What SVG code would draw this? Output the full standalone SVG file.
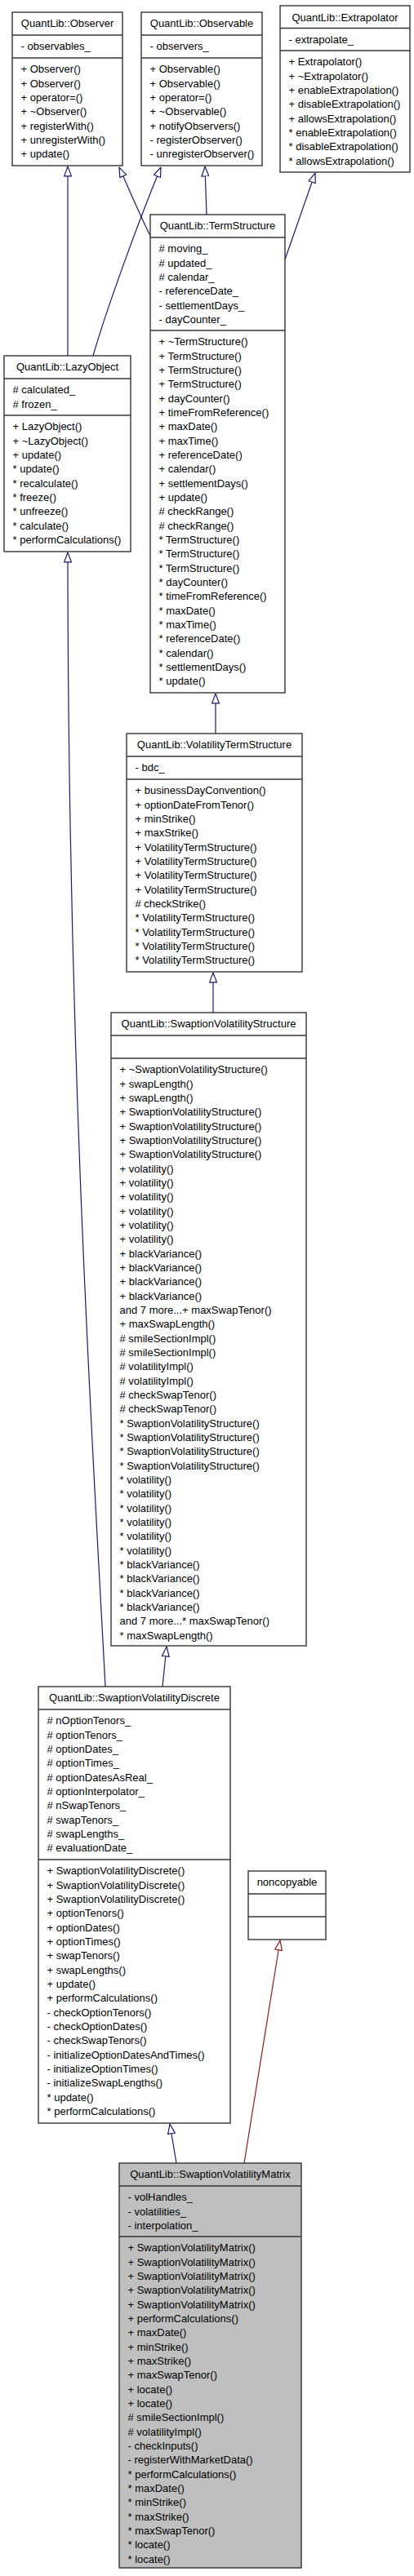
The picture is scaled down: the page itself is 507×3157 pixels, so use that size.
<svg xmlns="http://www.w3.org/2000/svg" width="507" height="3157" viewBox="0 0 507 3157">
<style>
.box{fill:#fff;stroke:#333;stroke-width:1.4}
.sel{fill:#bfbfbf;stroke:#333;stroke-width:1.4}
.sep{stroke:#333;stroke-width:1.4}
text{font-family:"Liberation Sans",Arial,Helvetica,sans-serif;font-size:13px;fill:#000}
.t{text-anchor:middle}
.e{fill:none;stroke:#191970;stroke-width:1.2}
.r{fill:none;stroke:#8b1a1a;stroke-width:1.2}
</style>
<defs>
<marker id="ab" viewBox="0 0 13 10" refX="12.5" refY="5" markerWidth="13" markerHeight="10" markerUnits="userSpaceOnUse" orient="auto">
<path d="M0.6,0.6 L12.4,5 L0.6,9.4 Z" fill="#fff" stroke="#191970" stroke-width="1.2"/>
</marker>
<marker id="ar" viewBox="0 0 13 10" refX="12.5" refY="5" markerWidth="13" markerHeight="10" markerUnits="userSpaceOnUse" orient="auto">
<path d="M0.6,0.6 L12.4,5 L0.6,9.4 Z" fill="#fff" stroke="#8b1a1a" stroke-width="1.2"/>
</marker>
</defs>
<rect width="507" height="3157" fill="#fff"/>

<g id="edges">
<path class="e" d="M83,436 L83,204" marker-end="url(#ab)"/>
<path class="e" d="M184,289 C172,265 158,232 146,205" marker-end="url(#ab)"/>
<path class="e" d="M114,436 C130,380 170,270 197,205" marker-end="url(#ab)"/>
<path class="e" d="M253,263 L251,204" marker-end="url(#ab)"/>
<path class="e" d="M349,318 L386,212" marker-end="url(#ab)"/>
<path class="e" d="M264,899 L264,850" marker-end="url(#ab)"/>
<path class="e" d="M261,1241 L261,1192" marker-end="url(#ab)"/>
<path class="e" d="M129,2067 C115,1800 83,1300 83,677" marker-end="url(#ab)"/>
<path class="e" d="M199,2067 L204,2018" marker-end="url(#ab)"/>
<path class="e" d="M216,2651 L208,2603" marker-end="url(#ab)"/>
<path class="r" d="M299,2651 L343,2378" marker-end="url(#ar)"/>
</g>

<g id="observer">
<rect class="box" x="15" y="15" width="135" height="188"/>
<line class="sep" x1="15" y1="43" x2="150" y2="43"/>
<line class="sep" x1="15" y1="71" x2="150" y2="71"/>
<text class="t" x="82.5" y="33.3">QuantLib::Observer</text>
<text x="25.5" y="61.3">- observables_</text>
<text x="25.5" y="89.3"><tspan x="25.5">+ Observer()</tspan><tspan x="25.5" dy="17.33">+ Observer()</tspan><tspan x="25.5" dy="17.33">+ operator=()</tspan><tspan x="25.5" dy="17.33">+ ~Observer()</tspan><tspan x="25.5" dy="17.33">+ registerWith()</tspan><tspan x="25.5" dy="17.33">+ unregisterWith()</tspan><tspan x="25.5" dy="17.33">+ update()</tspan></text>
</g>

<g id="observable">
<rect class="box" x="173" y="15" width="148" height="188"/>
<line class="sep" x1="173" y1="43" x2="321" y2="43"/>
<line class="sep" x1="173" y1="71" x2="321" y2="71"/>
<text class="t" x="247" y="33.3">QuantLib::Observable</text>
<text x="183.5" y="61.3">- observers_</text>
<text x="183.5" y="89.3"><tspan x="183.5">+ Observable()</tspan><tspan x="183.5" dy="17.33">+ Observable()</tspan><tspan x="183.5" dy="17.33">+ operator=()</tspan><tspan x="183.5" dy="17.33">+ ~Observable()</tspan><tspan x="183.5" dy="17.33">+ notifyObservers()</tspan><tspan x="183.5" dy="17.33">- registerObserver()</tspan><tspan x="183.5" dy="17.33">- unregisterObserver()</tspan></text>
</g>

<g id="extrapolator">
<rect class="box" x="343" y="7" width="159" height="204"/>
<line class="sep" x1="343" y1="34.5" x2="502" y2="34.5"/>
<line class="sep" x1="343" y1="62" x2="502" y2="62"/>
<text class="t" x="422.5" y="25.5">QuantLib::Extrapolator</text>
<text x="353.5" y="53">- extrapolate_</text>
<text x="353.5" y="80.3"><tspan x="353.5">+ Extrapolator()</tspan><tspan x="353.5" dy="17.33">+ ~Extrapolator()</tspan><tspan x="353.5" dy="17.33">+ enableExtrapolation()</tspan><tspan x="353.5" dy="17.33">+ disableExtrapolation()</tspan><tspan x="353.5" dy="17.33">+ allowsExtrapolation()</tspan><tspan x="353.5" dy="17.33">* enableExtrapolation()</tspan><tspan x="353.5" dy="17.33">* disableExtrapolation()</tspan><tspan x="353.5" dy="17.33">* allowsExtrapolation()</tspan></text>
</g>

<g id="termstructure">
<rect class="box" x="184" y="263" width="165" height="586"/>
<line class="sep" x1="184" y1="291" x2="349" y2="291"/>
<line class="sep" x1="184" y1="405" x2="349" y2="405"/>
<text class="t" x="266.5" y="281.3">QuantLib::TermStructure</text>
<text x="194.5" y="309.3"><tspan x="194.5"># moving_</tspan><tspan x="194.5" dy="17.33"># updated_</tspan><tspan x="194.5" dy="17.33"># calendar_</tspan><tspan x="194.5" dy="17.33">- referenceDate_</tspan><tspan x="194.5" dy="17.33">- settlementDays_</tspan><tspan x="194.5" dy="17.33">- dayCounter_</tspan></text>
<text x="194.5" y="423.3"><tspan x="194.5">+ ~TermStructure()</tspan><tspan x="194.5" dy="17.33">+ TermStructure()</tspan><tspan x="194.5" dy="17.33">+ TermStructure()</tspan><tspan x="194.5" dy="17.33">+ TermStructure()</tspan><tspan x="194.5" dy="17.33">+ dayCounter()</tspan><tspan x="194.5" dy="17.33">+ timeFromReference()</tspan><tspan x="194.5" dy="17.33">+ maxDate()</tspan><tspan x="194.5" dy="17.33">+ maxTime()</tspan><tspan x="194.5" dy="17.33">+ referenceDate()</tspan><tspan x="194.5" dy="17.33">+ calendar()</tspan><tspan x="194.5" dy="17.33">+ settlementDays()</tspan><tspan x="194.5" dy="17.33">+ update()</tspan><tspan x="194.5" dy="17.33"># checkRange()</tspan><tspan x="194.5" dy="17.33"># checkRange()</tspan><tspan x="194.5" dy="17.33">* TermStructure()</tspan><tspan x="194.5" dy="17.33">* TermStructure()</tspan><tspan x="194.5" dy="17.33">* TermStructure()</tspan><tspan x="194.5" dy="17.33">* dayCounter()</tspan><tspan x="194.5" dy="17.33">* timeFromReference()</tspan><tspan x="194.5" dy="17.33">* maxDate()</tspan><tspan x="194.5" dy="17.33">* maxTime()</tspan><tspan x="194.5" dy="17.33">* referenceDate()</tspan><tspan x="194.5" dy="17.33">* calendar()</tspan><tspan x="194.5" dy="17.33">* settlementDays()</tspan><tspan x="194.5" dy="17.33">* update()</tspan></text>
</g>

<g id="lazyobject">
<rect class="box" x="5" y="436" width="155" height="240"/>
<line class="sep" x1="5" y1="464" x2="160" y2="464"/>
<line class="sep" x1="5" y1="509" x2="160" y2="509"/>
<text class="t" x="82.5" y="454.3">QuantLib::LazyObject</text>
<text x="15.5" y="482.3"><tspan x="15.5"># calculated_</tspan><tspan x="15.5" dy="17.33"># frozen_</tspan></text>
<text x="15.5" y="527.3"><tspan x="15.5">+ LazyObject()</tspan><tspan x="15.5" dy="17.33">+ ~LazyObject()</tspan><tspan x="15.5" dy="17.33">+ update()</tspan><tspan x="15.5" dy="17.33">* update()</tspan><tspan x="15.5" dy="17.33">* recalculate()</tspan><tspan x="15.5" dy="17.33">* freeze()</tspan><tspan x="15.5" dy="17.33">* unfreeze()</tspan><tspan x="15.5" dy="17.33">* calculate()</tspan><tspan x="15.5" dy="17.33">* performCalculations()</tspan></text>
</g>

<g id="volatilitytermstructure">
<rect class="box" x="155" y="899" width="215" height="292"/>
<line class="sep" x1="155" y1="927" x2="370" y2="927"/>
<line class="sep" x1="155" y1="955" x2="370" y2="955"/>
<text class="t" x="262.5" y="917.3">QuantLib::VolatilityTermStructure</text>
<text x="165.5" y="945.3">- bdc_</text>
<text x="165.5" y="973.3"><tspan x="165.5">+ businessDayConvention()</tspan><tspan x="165.5" dy="17.33">+ optionDateFromTenor()</tspan><tspan x="165.5" dy="17.33">+ minStrike()</tspan><tspan x="165.5" dy="17.33">+ maxStrike()</tspan><tspan x="165.5" dy="17.33">+ VolatilityTermStructure()</tspan><tspan x="165.5" dy="17.33">+ VolatilityTermStructure()</tspan><tspan x="165.5" dy="17.33">+ VolatilityTermStructure()</tspan><tspan x="165.5" dy="17.33">+ VolatilityTermStructure()</tspan><tspan x="165.5" dy="17.33"># checkStrike()</tspan><tspan x="165.5" dy="17.33">* VolatilityTermStructure()</tspan><tspan x="165.5" dy="17.33">* VolatilityTermStructure()</tspan><tspan x="165.5" dy="17.33">* VolatilityTermStructure()</tspan><tspan x="165.5" dy="17.33">* VolatilityTermStructure()</tspan></text>
</g>

<g id="swaptionvolatilitystructure">
<rect class="box" x="136" y="1241" width="239" height="776"/>
<line class="sep" x1="136" y1="1269" x2="375" y2="1269"/>
<line class="sep" x1="136" y1="1297" x2="375" y2="1297"/>
<text class="t" x="255.5" y="1259.3">QuantLib::SwaptionVolatilityStructure</text>
<text x="146.5" y="1315.3"><tspan x="146.5">+ ~SwaptionVolatilityStructure()</tspan><tspan x="146.5" dy="17.33">+ swapLength()</tspan><tspan x="146.5" dy="17.33">+ swapLength()</tspan><tspan x="146.5" dy="17.33">+ SwaptionVolatilityStructure()</tspan><tspan x="146.5" dy="17.33">+ SwaptionVolatilityStructure()</tspan><tspan x="146.5" dy="17.33">+ SwaptionVolatilityStructure()</tspan><tspan x="146.5" dy="17.33">+ SwaptionVolatilityStructure()</tspan><tspan x="146.5" dy="17.33">+ volatility()</tspan><tspan x="146.5" dy="17.33">+ volatility()</tspan><tspan x="146.5" dy="17.33">+ volatility()</tspan><tspan x="146.5" dy="17.33">+ volatility()</tspan><tspan x="146.5" dy="17.33">+ volatility()</tspan><tspan x="146.5" dy="17.33">+ volatility()</tspan><tspan x="146.5" dy="17.33">+ blackVariance()</tspan><tspan x="146.5" dy="17.33">+ blackVariance()</tspan><tspan x="146.5" dy="17.33">+ blackVariance()</tspan><tspan x="146.5" dy="17.33">+ blackVariance()</tspan><tspan x="146.5" dy="17.33">and 7 more...+ maxSwapTenor()</tspan><tspan x="146.5" dy="17.33">+ maxSwapLength()</tspan><tspan x="146.5" dy="17.33"># smileSectionImpl()</tspan><tspan x="146.5" dy="17.33"># smileSectionImpl()</tspan><tspan x="146.5" dy="17.33"># volatilityImpl()</tspan><tspan x="146.5" dy="17.33"># volatilityImpl()</tspan><tspan x="146.5" dy="17.33"># checkSwapTenor()</tspan><tspan x="146.5" dy="17.33"># checkSwapTenor()</tspan><tspan x="146.5" dy="17.33">* SwaptionVolatilityStructure()</tspan><tspan x="146.5" dy="17.33">* SwaptionVolatilityStructure()</tspan><tspan x="146.5" dy="17.33">* SwaptionVolatilityStructure()</tspan><tspan x="146.5" dy="17.33">* SwaptionVolatilityStructure()</tspan><tspan x="146.5" dy="17.33">* volatility()</tspan><tspan x="146.5" dy="17.33">* volatility()</tspan><tspan x="146.5" dy="17.33">* volatility()</tspan><tspan x="146.5" dy="17.33">* volatility()</tspan><tspan x="146.5" dy="17.33">* volatility()</tspan><tspan x="146.5" dy="17.33">* volatility()</tspan><tspan x="146.5" dy="17.33">* blackVariance()</tspan><tspan x="146.5" dy="17.33">* blackVariance()</tspan><tspan x="146.5" dy="17.33">* blackVariance()</tspan><tspan x="146.5" dy="17.33">* blackVariance()</tspan><tspan x="146.5" dy="17.33">and 7 more...* maxSwapTenor()</tspan><tspan x="146.5" dy="17.33">* maxSwapLength()</tspan></text>
</g>

<g id="swaptionvolatilitydiscrete">
<rect class="box" x="47" y="2067" width="235" height="535"/>
<line class="sep" x1="47" y1="2095" x2="282" y2="2095"/>
<line class="sep" x1="47" y1="2279" x2="282" y2="2279"/>
<text class="t" x="164.5" y="2085.3">QuantLib::SwaptionVolatilityDiscrete</text>
<text x="57.5" y="2113.3"><tspan x="57.5"># nOptionTenors_</tspan><tspan x="57.5" dy="17.33"># optionTenors_</tspan><tspan x="57.5" dy="17.33"># optionDates_</tspan><tspan x="57.5" dy="17.33"># optionTimes_</tspan><tspan x="57.5" dy="17.33"># optionDatesAsReal_</tspan><tspan x="57.5" dy="17.33"># optionInterpolator_</tspan><tspan x="57.5" dy="17.33"># nSwapTenors_</tspan><tspan x="57.5" dy="17.33"># swapTenors_</tspan><tspan x="57.5" dy="17.33"># swapLengths_</tspan><tspan x="57.5" dy="17.33"># evaluationDate_</tspan></text>
<text x="57.5" y="2297.3"><tspan x="57.5">+ SwaptionVolatilityDiscrete()</tspan><tspan x="57.5" dy="17.33">+ SwaptionVolatilityDiscrete()</tspan><tspan x="57.5" dy="17.33">+ SwaptionVolatilityDiscrete()</tspan><tspan x="57.5" dy="17.33">+ optionTenors()</tspan><tspan x="57.5" dy="17.33">+ optionDates()</tspan><tspan x="57.5" dy="17.33">+ optionTimes()</tspan><tspan x="57.5" dy="17.33">+ swapTenors()</tspan><tspan x="57.5" dy="17.33">+ swapLengths()</tspan><tspan x="57.5" dy="17.33">+ update()</tspan><tspan x="57.5" dy="17.33">+ performCalculations()</tspan><tspan x="57.5" dy="17.33">- checkOptionTenors()</tspan><tspan x="57.5" dy="17.33">- checkOptionDates()</tspan><tspan x="57.5" dy="17.33">- checkSwapTenors()</tspan><tspan x="57.5" dy="17.33">- initializeOptionDatesAndTimes()</tspan><tspan x="57.5" dy="17.33">- initializeOptionTimes()</tspan><tspan x="57.5" dy="17.33">- initializeSwapLengths()</tspan><tspan x="57.5" dy="17.33">* update()</tspan><tspan x="57.5" dy="17.33">* performCalculations()</tspan></text>
</g>

<g id="noncopyable">
<rect class="box" x="304" y="2293" width="95" height="84"/>
<line class="sep" x1="304" y1="2321" x2="399" y2="2321"/>
<line class="sep" x1="304" y1="2349" x2="399" y2="2349"/>
<text class="t" x="351.5" y="2311.3">noncopyable</text>
</g>

<g id="swaptionvolatilitymatrix">
<rect class="sel" x="146" y="2651" width="223" height="496"/>
<line class="sep" x1="146" y1="2679" x2="369" y2="2679"/>
<line class="sep" x1="146" y1="2741" x2="369" y2="2741"/>
<text class="t" x="257.5" y="2669.3">QuantLib::SwaptionVolatilityMatrix</text>
<text x="156.5" y="2697.3"><tspan x="156.5">- volHandles_</tspan><tspan x="156.5" dy="17.33">- volatilities_</tspan><tspan x="156.5" dy="17.33">- interpolation_</tspan></text>
<text x="156.5" y="2759.3"><tspan x="156.5">+ SwaptionVolatilityMatrix()</tspan><tspan x="156.5" dy="17.33">+ SwaptionVolatilityMatrix()</tspan><tspan x="156.5" dy="17.33">+ SwaptionVolatilityMatrix()</tspan><tspan x="156.5" dy="17.33">+ SwaptionVolatilityMatrix()</tspan><tspan x="156.5" dy="17.33">+ SwaptionVolatilityMatrix()</tspan><tspan x="156.5" dy="17.33">+ performCalculations()</tspan><tspan x="156.5" dy="17.33">+ maxDate()</tspan><tspan x="156.5" dy="17.33">+ minStrike()</tspan><tspan x="156.5" dy="17.33">+ maxStrike()</tspan><tspan x="156.5" dy="17.33">+ maxSwapTenor()</tspan><tspan x="156.5" dy="17.33">+ locate()</tspan><tspan x="156.5" dy="17.33">+ locate()</tspan><tspan x="156.5" dy="17.33"># smileSectionImpl()</tspan><tspan x="156.5" dy="17.33"># volatilityImpl()</tspan><tspan x="156.5" dy="17.33">- checkInputs()</tspan><tspan x="156.5" dy="17.33">- registerWithMarketData()</tspan><tspan x="156.5" dy="17.33">* performCalculations()</tspan><tspan x="156.5" dy="17.33">* maxDate()</tspan><tspan x="156.5" dy="17.33">* minStrike()</tspan><tspan x="156.5" dy="17.33">* maxStrike()</tspan><tspan x="156.5" dy="17.33">* maxSwapTenor()</tspan><tspan x="156.5" dy="17.33">* locate()</tspan><tspan x="156.5" dy="17.33">* locate()</tspan></text>
</g>
</svg>
